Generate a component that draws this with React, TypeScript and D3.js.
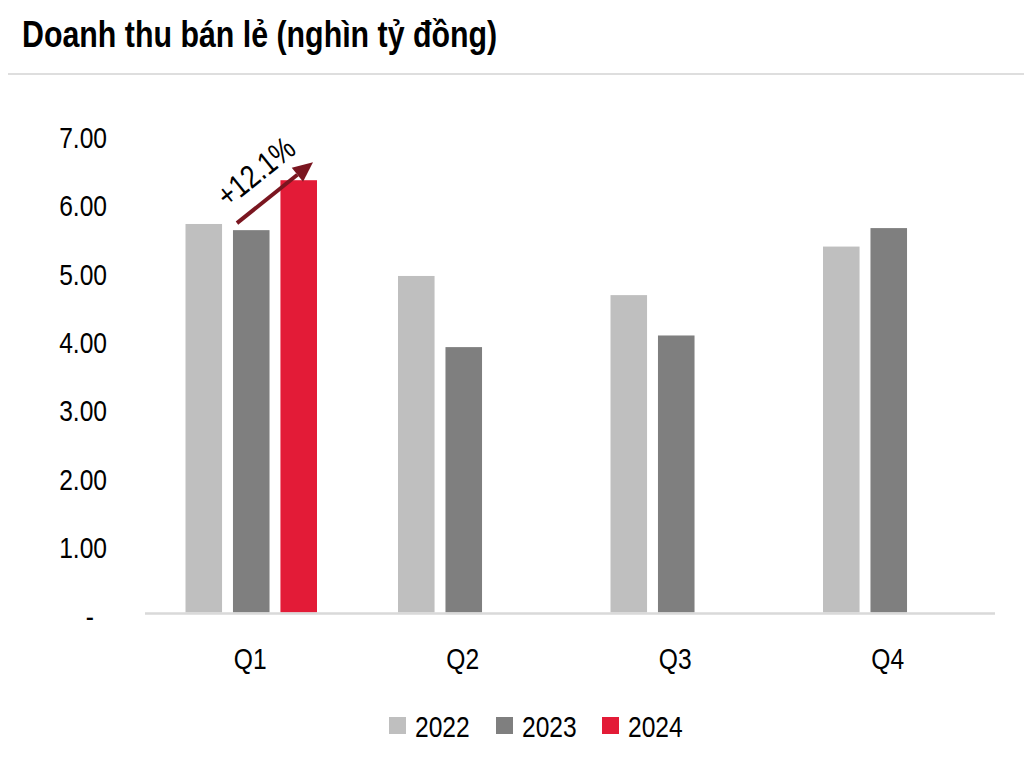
import React from "react";
import * as d3 from "d3";

const quarters = ["Q1", "Q2", "Q3", "Q4"];
const seriesNames = ["2022", "2023", "2024"];
const values2022 = [5.68, 4.92, 4.64, 5.35];
const values2023 = [5.59, 3.88, 4.05, 5.62];
const values2024: (number | null)[] = [6.32, null, null, null];
const seriesColors = ["#bfbfbf", "#7f7f7f", "#e31b37"];
const yTickValues = [0, 1, 2, 3, 4, 5, 6, 7];
const yTickLabels = ["-", "1.00", "2.00", "3.00", "4.00", "5.00", "6.00", "7.00"];
const titleText = "Doanh thu bán lẻ (nghìn tỷ đồng)";
const growthLabel = "+12.1%";

const FONT = "'Liberation Sans', Arial, sans-serif";
const NARROW = 0.82;

type TxtProps = {
  x: number;
  y: number;
  size: number;
  anchor?: "start" | "middle" | "end";
  bold?: boolean;
  rotate?: number;
  baseline?: string;
  children: React.ReactNode;
};

function Txt({ x, y, size, anchor = "start", bold, rotate = 0, baseline, children }: TxtProps) {
  return (
    <g transform={`translate(${x},${y}) rotate(${rotate}) scale(${NARROW},1)`}>
      <text
        x={0}
        y={0}
        textAnchor={anchor}
        dominantBaseline={baseline}
        fontFamily={FONT}
        fontWeight={bold ? "bold" : "normal"}
        fontSize={size}
        fill="#000"
      >
        {children}
      </text>
    </g>
  );
}

export default function App() {
  const W = 1024;
  const H = 763;
  const x = d3.scaleBand<string>().domain(quarters).range([145, 995]).paddingInner(0).paddingOuter(0);
  const inner = d3.scaleBand<string>().domain(seriesNames).range([40.5, 172]).paddingInner(0.23);
  const y = d3.scaleLinear().domain([0, 7]).range([612.5, 133.7]);
  const allSeries = [values2022, values2023, values2024];

  // annotation arrow between 2023 and 2024 bars in Q1
  const x23 = (x("Q1") ?? 0) + (inner("2023") ?? 0);
  const x24 = (x("Q1") ?? 0) + (inner("2024") ?? 0);
  const bw = inner.bandwidth();
  const tail = [x23 + 4, y(values2023[0]) - 7];
  const tip = [x24 + bw - 4, y(values2024[0] as number) - 18];
  const ang = Math.atan2(tip[1] - tail[1], tip[0] - tail[0]);
  const headLen = 20;
  const headW = 9;
  const base = [tip[0] - headLen * Math.cos(ang), tip[1] - headLen * Math.sin(ang)];
  const perp = [-Math.sin(ang), Math.cos(ang)];
  const headPts = [
    tip,
    [base[0] + perp[0] * headW, base[1] + perp[1] * headW],
    [base[0] - perp[0] * headW, base[1] - perp[1] * headW],
  ];
  const labelCx = (tail[0] + tip[0]) / 2 - 19;
  const labelCy = (tail[1] + tip[1]) / 2 - 21;
  const angDeg = (ang * 180) / Math.PI;

  const legendX = [389, 496, 602];

  return (
    <svg width={W} height={H} style={{ position: "absolute", left: 0, top: 0, background: "#fff" }}>
      <Txt x={22} y={47} size={37} bold>
        {titleText}
      </Txt>
      <line x1={8} x2={1024} y1={74} y2={74} stroke="#d3d3d3" strokeWidth={1.5} />

      {yTickValues.map((v, i) => (
        <Txt key={v} x={v === 0 ? 94 : 107} y={y(v) + 14} size={30} anchor="end">
          {yTickLabels[i]}
        </Txt>
      ))}

      {allSeries.map((vals, si) =>
        quarters.map((q, qi) => {
          const v = vals[qi];
          if (v == null) return null;
          return (
            <rect
              key={q + si}
              x={(x(q) ?? 0) + (inner(seriesNames[si]) ?? 0)}
              y={y(v)}
              width={bw}
              height={y(0) - y(v)}
              fill={seriesColors[si]}
            />
          );
        })
      )}

      <line x1={145} x2={995} y1={y(0) + 1} y2={y(0) + 1} stroke="#d9d9d9" strokeWidth={2.5} />

      {quarters.map((q) => (
        <Txt key={q} x={(x(q) ?? 0) + x.bandwidth() / 2 - 1} y={669} size={30} anchor="middle">
          {q}
        </Txt>
      ))}

      <line x1={tail[0]} y1={tail[1]} x2={base[0]} y2={base[1]} stroke="#7a1620" strokeWidth={4} />
      <polygon points={headPts.map((p) => p.join(",")).join(" ")} fill="#7a1620" />
      <Txt x={labelCx} y={labelCy} size={32} anchor="middle" rotate={angDeg} baseline="central">
        {growthLabel}
      </Txt>

      {seriesNames.map((s, i) => (
        <g key={s}>
          <rect x={legendX[i]} y={717} width={17} height={17} fill={seriesColors[i]} />
          <Txt x={legendX[i] + 26} y={737} size={30}>
            {s}
          </Txt>
        </g>
      ))}
    </svg>
  );
}
